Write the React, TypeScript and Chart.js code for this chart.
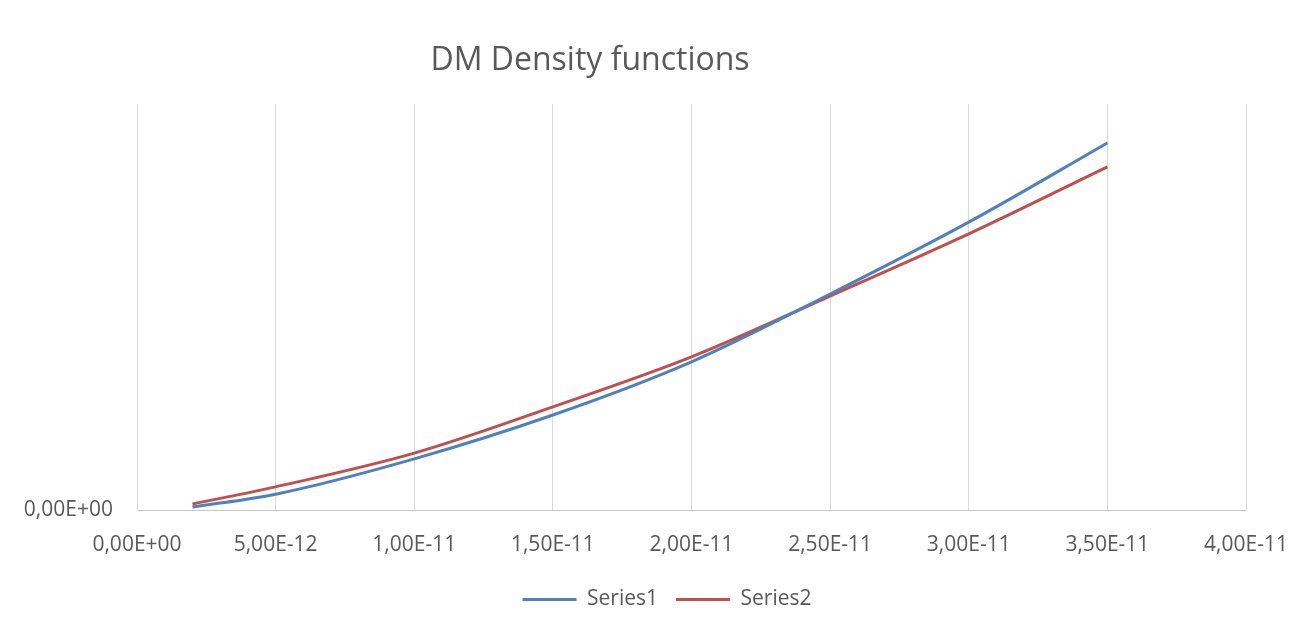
import React, { useEffect, useRef } from "react";
import { Chart, registerables } from "chart.js";

Chart.register(...registerables);

const chartTitle = "DM Density functions";
const xValues = [2e-12, 5e-12, 1e-11, 1.5e-11, 2e-11, 2.5e-11, 3e-11, 3.5e-11];
const series1 = [0.0074, 0.039, 0.126, 0.234, 0.365, 0.532, 0.709, 0.904];
const series2 = [0.0148, 0.057, 0.14, 0.254, 0.377, 0.527, 0.68, 0.845];
const seriesNames = ["Series1", "Series2"];
const xTickValues = [0, 5e-12, 1e-11, 1.5e-11, 2e-11, 2.5e-11, 3e-11, 3.5e-11, 4e-11];
const yTickValues = [0];

const FONT = "'Open Sans', sans-serif";
const TEXT = "#595959";

function fmtSci(v: number): string {
  if (Math.abs(v) < 1e-30) return "0,00E+00";
  const s = v.toExponential(2);
  const [m, e] = s.split("e");
  const sign = e[0] === "-" ? "-" : "+";
  const d = e.replace(/^[+-]/, "").padStart(2, "0");
  return m.replace(".", ",") + "E" + sign + d;
}

const titlePlugin = {
  id: "excelTitle",
  afterLayout(chart: any) {
    const lg = chart.legend;
    if (lg) {
      const dx = 36;
      const dy = 9;
      lg.left += dx;
      lg.right += dx;
      lg.top += dy;
      lg.bottom += dy;
    }
  },
  afterDraw(chart: any) {
    const ctx = chart.ctx;
    ctx.save();
    ctx.font = `32px ${FONT}`;
    ctx.fillStyle = TEXT;
    ctx.textAlign = "center";
    ctx.textBaseline = "alphabetic";
    ctx.fillText(chartTitle, 582, 62);
    ctx.restore();
  },
};

export default function App() {
  const ref = useRef<HTMLCanvasElement | null>(null);
  useEffect(() => {
    if (!ref.current) return;
    const chart = new Chart(ref.current, {
      type: "scatter",
      data: {
        datasets: [
          {
            label: seriesNames[0],
            data: xValues.map((x, i) => ({ x, y: series1[i] })),
            showLine: true,
            borderColor: "#4f81bd",
            backgroundColor: "#4f81bd",
            borderWidth: 3,
            pointRadius: 0,
            cubicInterpolationMode: "monotone",
          },
          {
            label: seriesNames[1],
            data: xValues.map((x, i) => ({ x, y: series2[i] })),
            showLine: true,
            borderColor: "#c0504d",
            backgroundColor: "#c0504d",
            borderWidth: 3,
            pointRadius: 0,
            cubicInterpolationMode: "monotone",
          },
        ],
      },
      options: {
        animation: false,
        responsive: false,
        layout: { padding: { left: 8, right: 70, top: 96, bottom: 9 } },
        plugins: {
          title: { display: false },
          tooltip: { enabled: false },
          legend: {
            display: true,
            position: "bottom",
            labels: {
              font: { family: FONT, size: 21 },
              color: TEXT,
              boxWidth: 54,
              boxHeight: 3,
              padding: 18,
              generateLabels: (c: any) =>
                Chart.defaults.plugins.legend.labels
                  .generateLabels(c)
                  .map((l: any) => ({ ...l, lineWidth: 0 })),
            },
          },
        },
        scales: {
          x: {
            type: "linear",
            min: 0,
            max: 4e-11,
            afterBuildTicks: (scale: any) => {
              scale.ticks = xTickValues.map((v) => ({ value: v }));
            },
            afterFit: (scale: any) => {
              scale.height = 52;
            },
            ticks: {
              callback: (v: any) => fmtSci(Number(v)),
              font: { family: FONT, size: 21 },
              color: TEXT,
              padding: 22,
              maxRotation: 0,
              autoSkip: false,
            },
            grid: { color: "#d9d9d9", lineWidth: 1, drawTicks: false },
            border: { display: true, color: "#c8c8c8", width: 1 },
          },
          y: {
            type: "linear",
            min: 0,
            max: 1,
            afterBuildTicks: (scale: any) => {
              scale.ticks = yTickValues.map((v) => ({ value: v }));
            },
            afterFit: (scale: any) => {
              scale.width = 121;
            },
            ticks: {
              callback: (v: any) => fmtSci(Number(v)),
              font: { family: FONT, size: 21 },
              color: TEXT,
              padding: 24,
            },
            grid: { display: false, drawTicks: false },
            border: { display: false },
          },
        },
      },
      plugins: [titlePlugin],
    } as any);
    return () => chart.destroy();
  }, []);

  return (
    <div
      style={{
        position: "relative",
        width: 1308,
        height: 612,
        borderTop: "1px solid #d9d9d9",
        borderLeft: "1px solid #d9d9d9",
        margin: "-1px 0 0 -1px",
        background: "#fff",
      }}
    >
      <canvas ref={ref} width={1308} height={612} style={{ display: "block" }} />
    </div>
  );
}
